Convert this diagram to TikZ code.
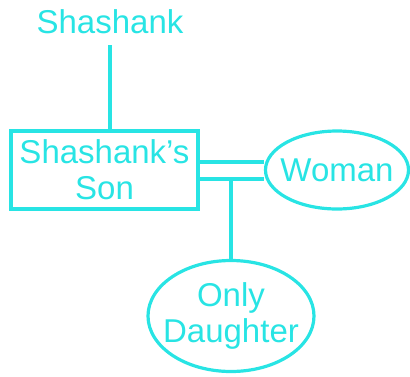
\documentclass[tikz,border=0pt]{standalone}
\usepackage{fontspec}
\setmainfont{Liberation Sans}
\usetikzlibrary{shapes.geometric}
\definecolor{cy}{RGB}{40,228,228}
\begin{document}
\begin{tikzpicture}[x=1pt,y=-1pt,
  lbl/.style={text=cy,font=\fontsize{33}{36}\selectfont,align=center,inner sep=0pt},
  ln/.style={draw=cy,line width=3.2pt},
  box/.style={lbl,draw=cy,line width=3.2pt,minimum width=187pt,minimum height=78pt},
  oval/.style={lbl,ellipse,draw=cy,line width=3.2pt,inner sep=-40pt}]
\useasboundingbox (0,0) rectangle (410,376);
\node[lbl] (sh) at (110,22) {Shashank};
\node[box] (son) at (104.5,170) {Shashank’s\\Son};
\node[oval,minimum width=143pt,minimum height=78pt] (woman) at (337,170) {Woman};
\node[oval,minimum width=166pt,minimum height=111pt] (dau) at (231,316) {Only\\Daughter};
\coordinate (top) at (110,45);
\draw[ln] (top) -- (top |- son.north);
\draw[ln] (son.east |- 0,162) -- (woman.west |- 0,162);
\draw[ln] (son.east |- 0,179) -- (woman.west |- 0,179);
\draw[ln] (dau.north |- 0,179) -- (dau.north);
\end{tikzpicture}
\end{document}
